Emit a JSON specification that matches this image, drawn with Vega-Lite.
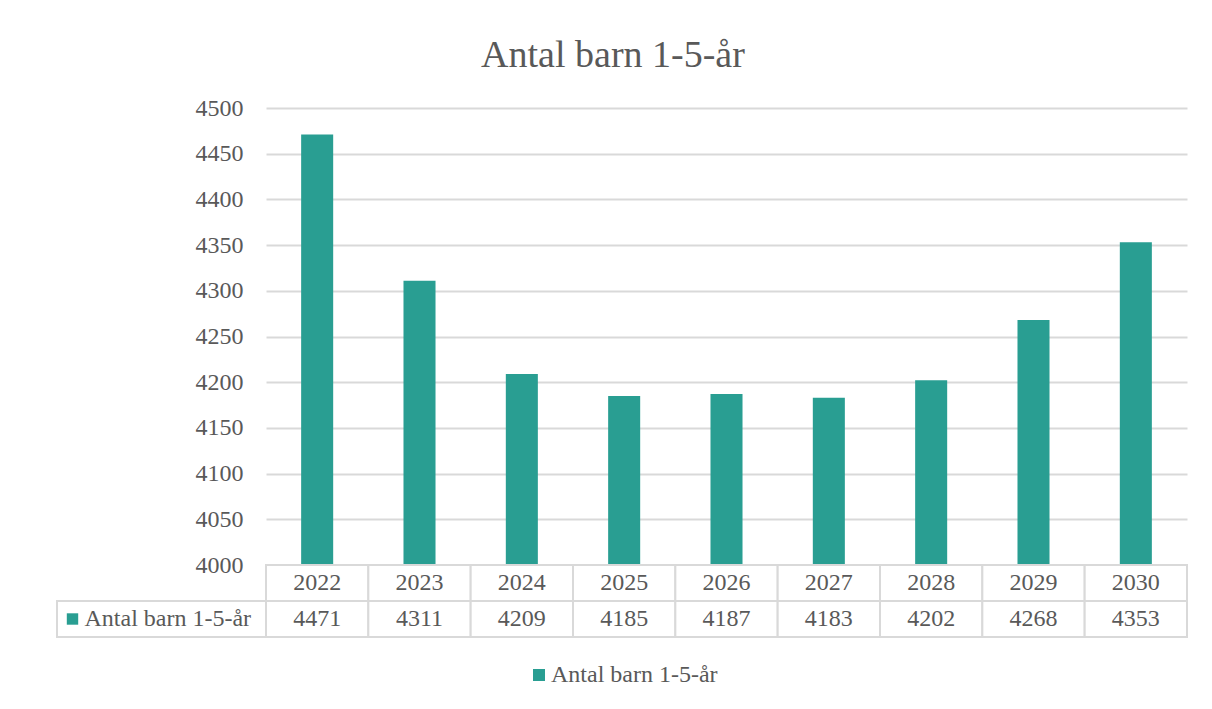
{
  "$schema": "https://vega.github.io/schema/vega-lite/v6.json",
  "padding": {"left": 56, "top": 37, "right": 26, "bottom": 10},
  "background": "white",
  "title": {"text": "Antal barn 1-5-år", "fontSize": 38, "font": "Liberation Serif", "fontWeight": "normal", "color": "#595959", "anchor": "middle", "offset": 21, "dx": -9},
  "datasets": {
    "barn": [
      {"year": "2022", "antal": 4471, "series": "Antal barn 1-5-år"},
      {"year": "2023", "antal": 4311, "series": "Antal barn 1-5-år"},
      {"year": "2024", "antal": 4209, "series": "Antal barn 1-5-år"},
      {"year": "2025", "antal": 4185, "series": "Antal barn 1-5-år"},
      {"year": "2026", "antal": 4187, "series": "Antal barn 1-5-år"},
      {"year": "2027", "antal": 4183, "series": "Antal barn 1-5-år"},
      {"year": "2028", "antal": 4202, "series": "Antal barn 1-5-år"},
      {"year": "2029", "antal": 4268, "series": "Antal barn 1-5-år"},
      {"year": "2030", "antal": 4353, "series": "Antal barn 1-5-år"}
    ],
    "rowlabel": [
      {"row": "antal", "label": "Antal barn 1-5-år"}
    ]
  },
  "spacing": 0,
  "columns": 2,
  "bounds": "flush",
  "resolve": {"scale": {"x": "independent", "y": "independent"}},
  "concat": [
    {
      "width": 209,
      "height": 457,
      "data": {"name": "rowlabel"},
      "mark": {"type": "text"},
      "encoding": {"text": {"value": ""}}
    },
    {
      "width": 921,
      "height": 457,
      "data": {"name": "barn"},
      "mark": {"type": "bar", "width": {"band": 0.313}},
      "encoding": {
        "x": {"field": "year", "type": "ordinal", "sort": null, "scale": {"paddingInner": 0, "paddingOuter": 0}, "axis": null},
        "y": {"field": "antal", "type": "quantitative", "scale": {"domain": [4000, 4500], "zero": false, "nice": false},
          "axis": {"title": null, "format": "d", "values": [4000, 4050, 4100, 4150, 4200, 4250, 4300, 4350, 4400, 4450, 4500], "domain": false, "ticks": false, "grid": true, "gridColor": "#D9D9D9", "gridWidth": 2, "labelFontSize": 24, "labelColor": "#595959", "labelFont": "Liberation Serif", "labelPadding": 23}},
        "y2": {"datum": 4000},
        "color": {"field": "series", "type": "nominal", "scale": {"range": ["#299E92"]},
          "legend": {"title": null, "orient": "bottom", "direction": "horizontal", "symbolType": "square", "symbolSize": 144, "symbolStrokeWidth": 0, "labelFontSize": 24, "labelFont": "Liberation Serif", "labelColor": "#595959", "labelLimit": 400, "labelOffset": 0, "offset": 25}}
      }
    },
    {
      "width": 209,
      "height": 72,
      "data": {"name": "rowlabel"},
      "layer": [
        {
          "mark": {"type": "rect", "fill": "white", "stroke": "#D9D9D9", "strokeWidth": 2},
          "encoding": {
            "y": {"field": "row", "type": "nominal", "scale": {"domain": ["year", "antal"], "paddingInner": 0, "paddingOuter": 0}, "axis": null}
          }
        },
        {
          "mark": {"type": "point", "shape": "square", "filled": true, "size": 130, "opacity": 1, "color": "#299E92", "xOffset": -89},
          "encoding": {
            "y": {"field": "row", "type": "nominal", "scale": {"domain": ["year", "antal"]}, "axis": null}
          }
        },
        {
          "mark": {"type": "text", "align": "left", "baseline": "middle", "dx": -77, "fontSize": 24, "font": "Liberation Serif", "color": "#595959"},
          "encoding": {
            "y": {"field": "row", "type": "nominal", "scale": {"domain": ["year", "antal"]}, "axis": null},
            "text": {"field": "label"}
          }
        }
      ]
    },
    {
      "width": 921,
      "height": 72,
      "data": {"name": "barn"},
      "transform": [{"fold": ["year", "antal"], "as": ["row", "cell"]}],
      "layer": [
        {
          "mark": {"type": "rect", "fill": "white", "stroke": "#D9D9D9", "strokeWidth": 2},
          "encoding": {
            "x": {"field": "year", "type": "ordinal", "sort": null, "scale": {"paddingInner": 0, "paddingOuter": 0}, "axis": null},
            "y": {"field": "row", "type": "nominal", "scale": {"domain": ["year", "antal"], "paddingInner": 0, "paddingOuter": 0}, "axis": null}
          }
        },
        {
          "mark": {"type": "text", "align": "center", "baseline": "middle", "fontSize": 24, "font": "Liberation Serif", "color": "#595959"},
          "encoding": {
            "x": {"field": "year", "type": "ordinal", "sort": null, "axis": null},
            "y": {"field": "row", "type": "nominal", "axis": null},
            "text": {"field": "cell"}
          }
        }
      ]
    }
  ],
  "config": {
    "view": {"stroke": null},
    "font": "Liberation Serif",
    "legend": {"layout": {"bottom": {"anchor": "middle"}}}
  }
}
